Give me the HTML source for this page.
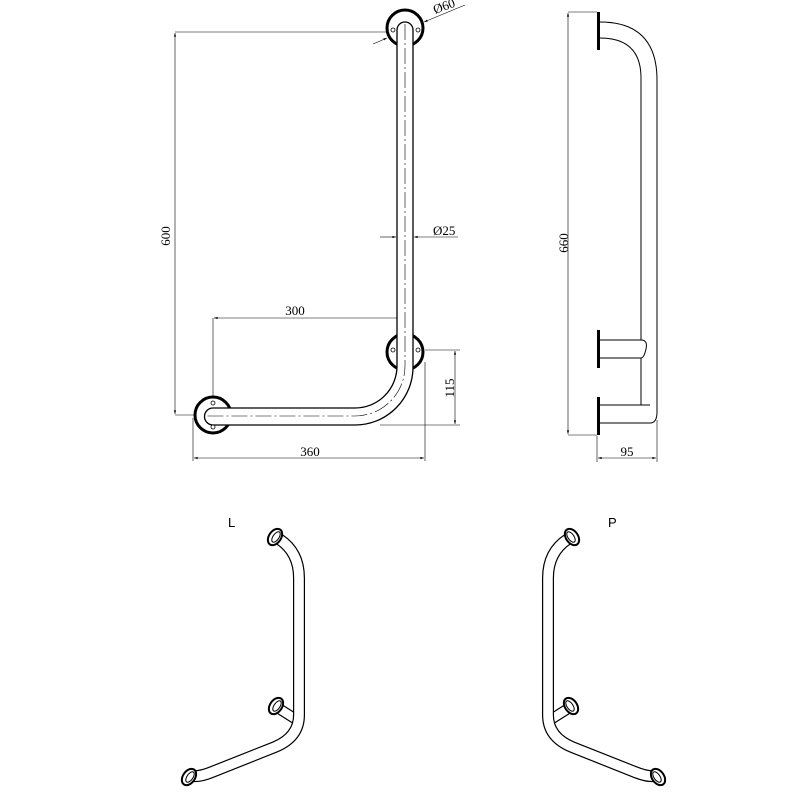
<!DOCTYPE html>
<html><head><meta charset="utf-8"><style>
html,body{margin:0;padding:0;background:#fff;}
svg{display:block;}
text{font-family:"Liberation Serif",serif;font-size:13px;fill:#000;}
.s{font-family:"Liberation Sans",sans-serif;font-size:13px;}
</style></head><body>
<svg width="800" height="800" viewBox="0 0 800 800" xmlns="http://www.w3.org/2000/svg">
<defs>
<marker id="a" viewBox="0 0 10 10" refX="10" refY="5" markerWidth="8" markerHeight="6" orient="auto-start-reverse"><path d="M0,2 L10,5 L0,8z" fill="#000"/></marker>
</defs>
<g stroke="#000" stroke-width="0.6" fill="none">
<line x1="175" y1="32" x2="392" y2="32"/>
<line x1="175" y1="415" x2="200" y2="415"/>
<line x1="175" y1="33" x2="175" y2="414" marker-start="url(#a)" marker-end="url(#a)"/>
<line x1="213" y1="318" x2="213" y2="405"/>
<line x1="214" y1="318" x2="404" y2="318" marker-start="url(#a)" marker-end="url(#a)"/>
<line x1="193" y1="418" x2="193" y2="461"/>
<line x1="425" y1="362" x2="425" y2="461"/>
<line x1="194" y1="458" x2="424" y2="458" marker-start="url(#a)" marker-end="url(#a)"/>
<line x1="425" y1="350" x2="460" y2="350"/>
<line x1="380" y1="425" x2="460" y2="425"/>
<line x1="455" y1="351" x2="455" y2="424" marker-start="url(#a)" marker-end="url(#a)"/>
<line x1="380" y1="237" x2="396" y2="237" marker-end="url(#a)"/>
<line x1="458" y1="237" x2="414" y2="237" marker-end="url(#a)"/>
<line x1="373" y1="44" x2="387" y2="38" marker-end="url(#a)"/>
<line x1="465" y1="5" x2="424" y2="22" marker-end="url(#a)"/>
<line x1="568" y1="12" x2="597" y2="12"/>
<line x1="568" y1="435" x2="597" y2="435"/>
<line x1="568" y1="13" x2="568" y2="434" marker-start="url(#a)" marker-end="url(#a)"/>
<line x1="597" y1="436" x2="597" y2="462"/>
<line x1="657" y1="420" x2="657" y2="462"/>
<line x1="598" y1="458" x2="656" y2="458" marker-start="url(#a)" marker-end="url(#a)"/>
</g>
<text x="170" y="236" transform="rotate(-90 170 236)" text-anchor="middle">600</text>
<text x="295" y="315" text-anchor="middle">300</text>
<text x="310" y="456" text-anchor="middle">360</text>
<text x="454" y="388" transform="rotate(-90 454 388)" text-anchor="middle">115</text>
<text x="433" y="235">Ø25</text>
<text x="435" y="14" transform="rotate(-20 435 14)">Ø60</text>
<text x="568" y="243" transform="rotate(-90 568 243)" text-anchor="middle">660</text>
<text x="627" y="456" text-anchor="middle">95</text>

<g stroke="#000" fill="#fff">
<circle cx="405" cy="28" r="18" stroke-width="3"/>
<circle cx="405" cy="352" r="18" stroke-width="3"/>
<circle cx="213" cy="415" r="18" stroke-width="3"/>
<path d="M213,408 L355,408 A42,42 0 0 0 397,366 L397,30 A8,8 0 0 1 413,30 L413,367 A58,58 0 0 1 355,425 L213,425 A8.5,8.5 0 0 1 213,408z" stroke-width="1.3"/>
</g>
<g stroke="#000" stroke-width="0.6" fill="none" stroke-dasharray="16,3,2,3">
<path d="M405,24 L405,366 A50,50 0 0 1 355,416 L207,416"/>
</g>
<g fill="#fff" stroke="#000" stroke-width="0.8">
<circle cx="393" cy="30" r="2"/><circle cx="418" cy="30" r="2"/>
<circle cx="393" cy="350" r="2"/><circle cx="418" cy="350" r="2"/>
<circle cx="213" cy="403" r="2"/><circle cx="213" cy="427" r="2"/>
</g>

<g stroke="#000" fill="none">
<line x1="598.5" y1="12" x2="598.5" y2="50" stroke-width="3"/>
<line x1="598.5" y1="330" x2="598.5" y2="368" stroke-width="3"/>
<line x1="598.5" y1="397" x2="598.5" y2="435" stroke-width="3"/>
<g stroke-width="1">
<path d="M600,22 Q657,22 657,80 L657,412 Q657,423 650,423 L600,423"/>
<path d="M600,38 Q641,38 641,78 L641,340"/>
<path d="M641,358 L641,405"/>
<path d="M600,340 L641,340 Q648,340 646,349 Q644,358 641,358 L600,358"/>
<path d="M600,405 L650,405"/>
</g>
</g>

<text class="s" x="228" y="527">L</text>
<text class="s" x="608" y="527">P</text>

<g id="iso">
<path d="M278,708 L297,720" stroke="#000" stroke-width="11" fill="none"/>
<path d="M278,708 L297,720" stroke="#fff" stroke-width="8.6" fill="none"/>
<path d="M279,539 Q299,552 299,578 L299,715 Q299,737 275,747 L212,772 Q200,777 192,776" stroke="#000" stroke-width="12" fill="none"/>
<path d="M279,539 Q299,552 299,578 L299,715 Q299,737 275,747 L212,772 Q200,777 192,776" stroke="#fff" stroke-width="9.6" fill="none"/>
<g fill="#fff" stroke="#000" stroke-width="2">
<ellipse cx="275" cy="537" rx="6" ry="9" transform="rotate(35 275 537)"/>
<ellipse cx="276" cy="706" rx="6" ry="9" transform="rotate(35 276 706)"/>
<ellipse cx="189" cy="777" rx="6" ry="9" transform="rotate(35 189 777)"/>
</g>
<g fill="none" stroke="#000" stroke-width="1">
<ellipse cx="276" cy="537" rx="3" ry="6" transform="rotate(35 276 537)"/>
<ellipse cx="277" cy="706" rx="3" ry="6" transform="rotate(35 277 706)"/>
<ellipse cx="190" cy="777" rx="3" ry="6" transform="rotate(35 190 777)"/>
</g>
</g>
<use href="#iso" transform="translate(847,0) scale(-1,1)"/>
</svg>
</body></html>
